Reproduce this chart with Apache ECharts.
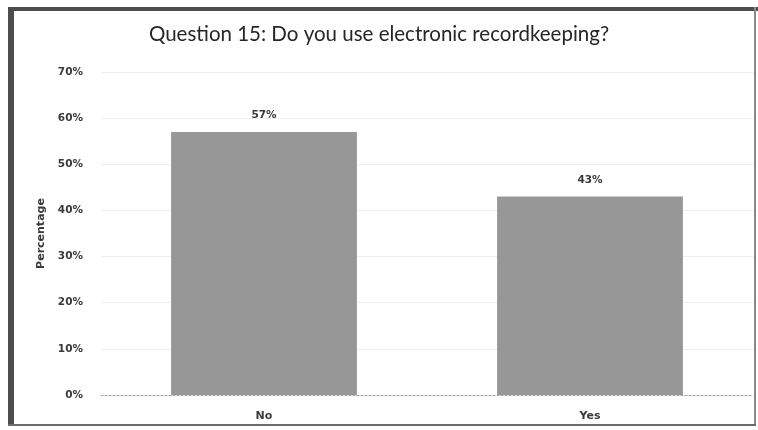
<!DOCTYPE html>
<html>
<head>
<meta charset="utf-8">
<script src="https://cdn.jsdelivr.net/npm/echarts@6/dist/echarts.min.js"></script>
<style>
  html, body { margin: 0; padding: 0; background: #fff; }
  #chart { width: 758px; height: 430px; }
</style>
</head>
<body>
<div id="chart"></div>
<script>
// Survey answers for question 15
const categories = ['No', 'Yes'];
const percentages = [57, 43];
const yTicks = [0, 10, 20, 30, 40, 50, 60, 70];

const labelFont = 'DejaVu Sans';
const chart = echarts.init(document.getElementById('chart'));

chart.setOption({
  backgroundColor: '#ffffff',
  animation: false,
  title: {
    text: 'Question 15: Do you use electronic recordkeeping?',
    left: 'center',
    top: 19,
    textStyle: {
      fontFamily: 'Lato',
      fontSize: 20.5,
      fontWeight: 'normal',
      color: '#262626'
    }
  },
  grid: { left: 101, right: 5, top: 72, bottom: 35 },
  xAxis: {
    type: 'category',
    data: categories,
    axisTick: { show: false },
    axisLine: { lineStyle: { color: '#a5a5a5', type: [2, 2], width: 1 } },
    axisLabel: {
      margin: 16,
      fontFamily: labelFont,
      fontWeight: 'bold',
      fontSize: 11,
      color: '#3a3a3a'
    }
  },
  yAxis: {
    type: 'value',
    min: yTicks[0],
    max: yTicks[yTicks.length - 1],
    interval: 10,
    name: 'Percentage',
    nameLocation: 'middle',
    nameRotate: 90,
    nameGap: 51,
    nameTextStyle: {
      fontFamily: labelFont,
      fontWeight: 'bold',
      fontSize: 11,
      color: '#3a3a3a'
    },
    axisLine: { show: false },
    axisTick: { show: false },
    splitLine: { lineStyle: { color: '#eeeeee', width: 1 } },
    axisLabel: {
      margin: 18,
      formatter: v => v + '%',
      fontFamily: labelFont,
      fontWeight: 'bold',
      fontSize: 10.5,
      color: '#3a3a3a'
    }
  },
  series: [{
    type: 'bar',
    data: percentages,
    barWidth: '57%',
    itemStyle: { color: '#979797' },
    label: {
      show: true,
      position: 'top',
      distance: 11,
      formatter: p => p.value + '%',
      fontFamily: labelFont,
      fontWeight: 'bold',
      fontSize: 10.5,
      color: '#3a3a3a'
    }
  }],
  graphic: [
    // outer frame around the chart
    { type: 'rect', shape: { x: 8, y: 7, width: 6, height: 418 }, style: { fill: '#4d4d4d' } },
    { type: 'rect', shape: { x: 8, y: 7, width: 750, height: 4 }, style: { fill: '#4d4d4d' } },
    { type: 'rect', shape: { x: 754, y: 7, width: 2, height: 418 }, style: { fill: '#8a8a8a' } },
    { type: 'rect', shape: { x: 8, y: 424, width: 748, height: 2 }, style: { fill: '#6a6a6a' } }
  ]
});
</script>
</body>
</html>
